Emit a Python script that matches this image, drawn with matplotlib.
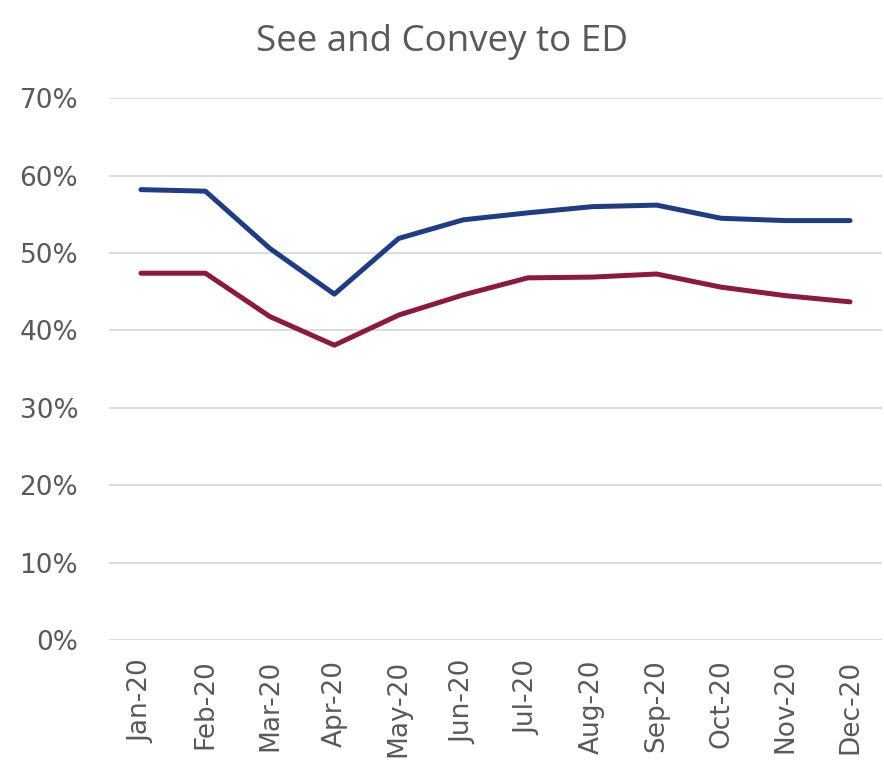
import matplotlib.pyplot as plt
from matplotlib.ticker import PercentFormatter

months = ['Jan-20', 'Feb-20', 'Mar-20', 'Apr-20', 'May-20', 'Jun-20',
          'Jul-20', 'Aug-20', 'Sep-20', 'Oct-20', 'Nov-20', 'Dec-20']
blue_vals = [58.2, 58.0, 50.6, 44.7, 51.9, 54.3, 55.2, 56.0, 56.2, 54.5, 54.2, 54.2]
red_vals = [47.4, 47.4, 41.8, 38.1, 42.0, 44.6, 46.8, 46.9, 47.3, 45.6, 44.5, 43.7]

plt.rcParams['font.family'] = ['DejaVu Sans']

fig = plt.figure(figsize=(8.84, 7.74), dpi=100)
ax = fig.add_axes([0.123, 0.173, 0.875, 0.700])

x = range(len(months))
ax.plot(x, blue_vals, color='#1f3d85', lw=3.6, solid_capstyle='round', solid_joinstyle='round')
ax.plot(x, red_vals, color='#8c1a3e', lw=3.6, solid_capstyle='round', solid_joinstyle='round')

ax.set_xlim(-0.5, 11.5)
ax.set_ylim(0, 70)
ax.set_yticks(range(0, 71, 10))
ax.yaxis.set_major_formatter(PercentFormatter(decimals=0))
ax.set_xticks(list(x))
ax.set_xticklabels(months, rotation=90)
ax.tick_params(axis='both', length=0, labelsize=19, colors='#595959')
ax.tick_params(axis='y', pad=22)
ax.tick_params(axis='x', pad=14)
ax.grid(axis='y', color='#d9d9d9', lw=1.3)
ax.set_axisbelow(True)
for s in ax.spines.values():
    s.set_visible(False)

fig.text(0.5, 0.946, 'See and Convey to ED', ha='center', va='center',
         fontsize=26.5, color='#595959', family=['Open Sans', 'DejaVu Sans'])

fig.savefig('out.png', dpi=100)
